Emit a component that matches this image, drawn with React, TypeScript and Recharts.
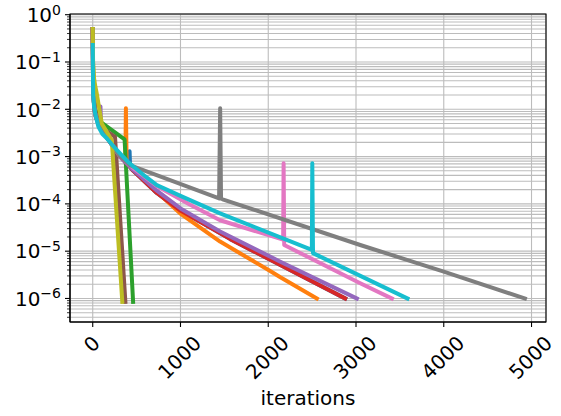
import React from 'react';
import { LineChart, Line, XAxis, YAxis, CartesianGrid, ReferenceArea } from 'recharts';

// ---- data (iterations, loss) per run ----
const blueIter = [0, 3, 8, 20, 40, 70, 120, 200, 300, 400, 414, 420, 426, 463, 730, 1000, 1568, 2138, 2877];
const blueLoss = [0.5, 0.06, 0.02, 0.0095, 0.0066, 0.0047, 0.0032, 0.002, 0.00105, 0.00068, 0.00063, 0.0013, 0.0006, 0.0005, 0.00017, 0.000072, 0.000018, 0.0000051, 0.000001];

const orangeIter = [0, 3, 8, 20, 40, 70, 120, 200, 300, 372, 378, 386, 463, 730, 995, 1451, 2022, 2138, 2554];
const orangeLoss = [0.5, 0.06, 0.02, 0.0095, 0.0066, 0.0047, 0.0032, 0.002, 0.00105, 0.00082, 0.0105, 0.0008, 0.0006, 0.00018, 0.000063, 0.000016, 0.0000038, 0.0000028, 0.000001];

const greenIter = [0, 4, 12, 30, 60, 85, 363, 460];
const greenLoss = [0.5, 0.07, 0.02, 0.01, 0.0068, 0.0055, 0.0023, 0.00000085];

const redIter = [0, 3, 8, 20, 40, 70, 120, 200, 300, 400, 463, 730, 1000, 1568, 2138, 2877];
const redLoss = [0.5, 0.06, 0.02, 0.0095, 0.0066, 0.0047, 0.0032, 0.002, 0.00105, 0.00068, 0.0005, 0.00017, 0.000072, 0.000018, 0.0000051, 0.000001];

const purpleIter = [0, 3, 8, 20, 40, 70, 82, 88, 95, 120, 200, 300, 400, 463, 730, 1000, 1451, 2138, 3010];
const purpleLoss = [0.5, 0.06, 0.02, 0.0095, 0.0066, 0.0047, 0.0045, 0.0115, 0.0042, 0.0032, 0.002, 0.00105, 0.00068, 0.00052, 0.00019, 0.00008, 0.000026, 0.000006, 0.000001];

const brownIter = [0, 4, 12, 30, 60, 83, 254, 372];
const brownLoss = [0.5, 0.08, 0.02, 0.009, 0.0055, 0.0043, 0.0026, 0.00000085];

const pinkIter = [0, 3, 8, 20, 40, 70, 120, 200, 300, 400, 463, 730, 1110, 1451, 2170, 2175, 2182, 3048, 3409];
const pinkLoss = [0.5, 0.06, 0.02, 0.0095, 0.0066, 0.0047, 0.0032, 0.002, 0.00108, 0.00072, 0.00057, 0.00024, 0.0000955, 0.000045, 0.0000175, 0.00072, 0.0000135, 0.0000021, 0.000001];

const grayIter = [0, 3, 8, 20, 40, 70, 120, 200, 300, 430, 1440, 1452, 1462, 1480, 3048, 4000, 4925];
const grayLoss = [0.5, 0.06, 0.02, 0.0095, 0.0066, 0.0047, 0.0032, 0.002, 0.00108, 0.00065, 0.00013, 0.0105, 0.00013, 0.000125, 0.0000135, 0.0000037, 0.000001];

const oliveIter = [0, 4, 15, 30, 45, 80, 103, 217, 337];
const oliveLoss = [0.5, 0.1, 0.045, 0.03, 0.022, 0.009, 0.005, 0.0022, 0.00000085];

const cyanIter = [0, 5, 15, 30, 64, 110, 160, 230, 311, 400, 463, 600, 730, 1000, 1451, 2497, 2502, 2510, 3587];
const cyanLoss = [0.23, 0.02, 0.0115, 0.0078, 0.0043, 0.003, 0.00245, 0.0017, 0.00117, 0.00078, 0.00062, 0.00038, 0.00025, 0.000148, 0.000063, 0.0000107, 0.00072, 0.0000091, 0.000001];

// ---- axes ----
const xTickValues = [0, 1000, 2000, 3000, 4000, 5000];
const yExponents = [-7, -6, -5, -4, -3, -2, -1, 0];
const yMinorMultipliers = [1, 2, 3, 4, 5, 6, 7, 8, 9];
const X_DOMAIN: [number, number] = [-259, 5165];
const Y_DOMAIN: [number, number] = [3.18e-7, 1.035];
const xLabel = 'iterations';

const yTickValues = yExponents
  .flatMap((e) => yMinorMultipliers.map((m) => m * Math.pow(10, e)))
  .filter((v) => v >= Y_DOMAIN[0] && v <= Y_DOMAIN[1]);

const series = [
  { name: 'blue', color: '#1f77b4', iters: blueIter, losses: blueLoss },
  { name: 'orange', color: '#ff7f0e', iters: orangeIter, losses: orangeLoss },
  { name: 'green', color: '#2ca02c', iters: greenIter, losses: greenLoss },
  { name: 'red', color: '#d62728', iters: redIter, losses: redLoss },
  { name: 'purple', color: '#9467bd', iters: purpleIter, losses: purpleLoss },
  { name: 'brown', color: '#8c564b', iters: brownIter, losses: brownLoss },
  { name: 'pink', color: '#e377c2', iters: pinkIter, losses: pinkLoss },
  { name: 'gray', color: '#7f7f7f', iters: grayIter, losses: grayLoss },
  { name: 'olive', color: '#bcbd22', iters: oliveIter, losses: oliveLoss },
  { name: 'cyan', color: '#17becf', iters: cyanIter, losses: cyanLoss },
];

const FONT = 'DejaVu Sans';
const FS = 20;

const YTick = (props: any) => {
  const { x, y, payload } = props;
  const v = payload.value as number;
  const lg = Math.log10(v);
  const e = Math.round(lg);
  const major = Math.abs(lg - e) < 1e-6;
  return (
    <g>
      <line x1={x - (major ? 5 : 3)} x2={x} y1={y} y2={y} stroke="#000" strokeWidth={major ? 1.1 : 0.8} />
      {major && (
        <text x={x - 9} y={y + 7.3} textAnchor="end" fontFamily={FONT} fontSize={FS} fill="#000">
          10
          <tspan dy={-7.5} fontSize={14}>
            {e < 0 ? '\u2212' + String(-e) : String(e)}
          </tspan>
        </text>
      )}
    </g>
  );
};

const XTick = (props: any) => {
  const { x, y, payload } = props;
  const label = String(payload.value);
  const w = label.length * 0.636 * FS;
  const h = 23.3;
  const half = (w + h) * 0.3536;
  const cx = x - 1;
  const cy = y + 9.3 + half;
  return (
    <g>
      <line x1={x} x2={x} y1={y} y2={y + 5} stroke="#000" strokeWidth={1.1} />
      <text
        x={cx}
        y={cy}
        textAnchor="middle"
        dominantBaseline="central"
        transform={`rotate(-45, ${cx}, ${cy})`}
        fontFamily={FONT}
        fontSize={FS}
        fill="#000"
      >
        {label}
      </text>
    </g>
  );
};

export default function App() {
  return (
    <div style={{ position: 'absolute', left: 0, top: 0, width: 561, height: 416, background: '#fff', fontFamily: FONT }}>
      <LineChart width={561} height={416} margin={{ top: 14, right: 15, bottom: 0, left: 0 }}>
        <CartesianGrid stroke="#bcbcbc" strokeWidth={1.1} horizontal vertical />
        <XAxis
          dataKey="x"
          type="number"
          domain={X_DOMAIN}
          allowDataOverflow
          ticks={xTickValues}
          interval={0}
          height={94}
          tickSize={0}
          tickMargin={0}
          tickLine={false}
          tick={<XTick />}
          axisLine={{ stroke: '#000', strokeWidth: 1.1 }}
          label={{ value: xLabel, position: 'insideBottom', offset: 11, fontSize: FS, fontFamily: FONT, fill: '#000' }}
        />
        <YAxis
          scale="log"
          type="number"
          domain={Y_DOMAIN}
          allowDataOverflow
          ticks={yTickValues}
          interval={0}
          width={70}
          tickSize={0}
          tickMargin={0}
          tickLine={false}
          tick={<YTick />}
          axisLine={{ stroke: '#000', strokeWidth: 1.1 }}
        />
        {series.map((s) => (
          <Line
            key={s.name}
            name={s.name}
            data={s.iters.map((it, i) => ({ x: it, y: s.losses[i] }))}
            dataKey="y"
            type="linear"
            stroke={s.color}
            strokeWidth={4}
            strokeLinejoin="round"
            strokeLinecap="square"
            dot={false}
            activeDot={false}
            isAnimationActive={false}
          />
        ))}
        <ReferenceArea
          x1={X_DOMAIN[0]}
          x2={X_DOMAIN[1]}
          y1={Y_DOMAIN[0]}
          y2={Y_DOMAIN[1]}
          ifOverflow="visible"
          fill="none"
          fillOpacity={0}
          stroke="#000"
          strokeWidth={1.1}
          strokeOpacity={1}
        />
      </LineChart>
    </div>
  );
}
